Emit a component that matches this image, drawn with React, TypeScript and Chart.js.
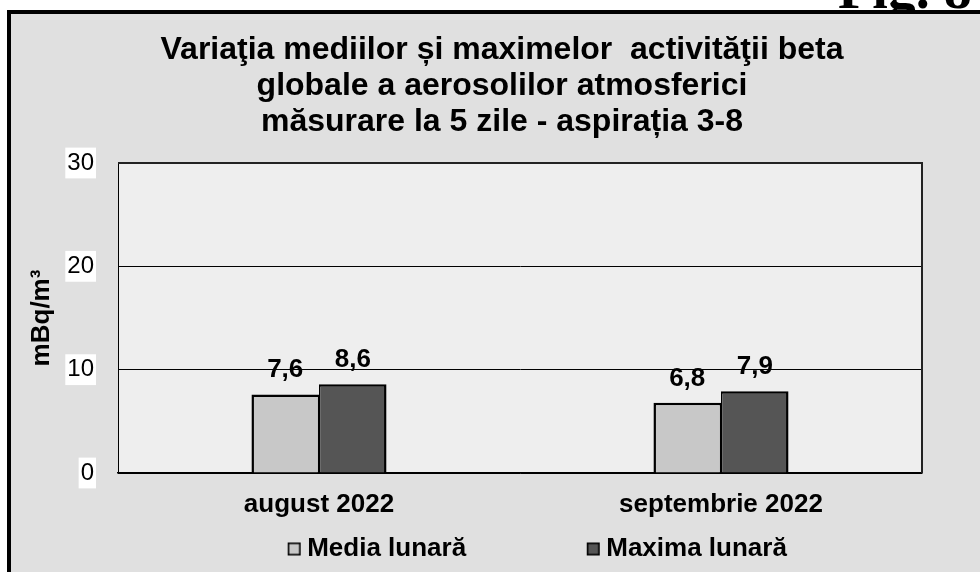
import React, { useEffect, useRef } from "react";
import { Chart, registerables } from "chart.js";

Chart.register(...registerables);

const categories = ["august 2022", "septembrie 2022"];
const seriesNames = ["Media lunară", "Maxima lunară"];
const mediaValues = [7.6, 6.8];
const maximaValues = [8.6, 7.9];
const yTicks = [0, 10, 20, 30];
const seriesColors = ["#c8c8c8", "#555555"];
const titleLines = [
  "Variaţia mediilor și maximelor  activităţii beta",
  "globale a aerosolilor atmosferici",
  "măsurare la 5 zile - aspirația 3-8",
];
const yTitle = "mBq/m³";

const FONT = "'Liberation Sans', Arial, Helvetica, sans-serif";
const CW = 1046;
const CH = 558;

function legendSwatch(color: string) {
  const c = document.createElement("canvas");
  c.width = 28;
  c.height = 15;
  const g = c.getContext("2d")!;
  g.fillStyle = color;
  g.fillRect(14, 1, 13, 13);
  g.strokeStyle = "#000";
  g.lineWidth = 1.6;
  g.strokeRect(14.8, 1.8, 11.4, 11.4);
  return c;
}

const areaPlugin = {
  id: "areaPlugin",
  beforeDraw(chart: any) {
    const { ctx, chartArea: a } = chart;
    ctx.save();
    ctx.fillStyle = "#eeeeee";
    ctx.fillRect(a.left, a.top, a.right - a.left, a.bottom - a.top);
    ctx.restore();
  },
  afterDatasetsDraw(chart: any) {
    const { ctx, chartArea: a } = chart;
    ctx.save();
    ctx.strokeStyle = "#222";
    ctx.lineWidth = 2;
    ctx.beginPath();
    ctx.moveTo(a.left, a.top);
    ctx.lineTo(a.right, a.top);
    ctx.lineTo(a.right, a.bottom);
    ctx.stroke();
    ctx.font = `bold 26px ${FONT}`;
    ctx.fillStyle = "#000";
    ctx.textAlign = "center";
    ctx.textBaseline = "alphabetic";
    chart.data.datasets.forEach((ds: any, i: number) => {
      const meta = chart.getDatasetMeta(i);
      meta.data.forEach((el: any, j: number) => {
        const v = ds.data[j] as number;
        ctx.fillText(v.toFixed(1).replace(".", ","), el.x, el.y - 17);
      });
    });
    ctx.restore();
  },
};

export default function App() {
  const ref = useRef<HTMLCanvasElement>(null);
  useEffect(() => {
    if (!ref.current) return;
    Chart.defaults.font.family = FONT;
    Chart.defaults.color = "#000";
    const swatches = seriesColors.map(legendSwatch);
    const chart = new Chart(ref.current, {
      type: "bar",
      data: {
        labels: categories,
        datasets: [
          {
            label: seriesNames[0],
            data: mediaValues,
            backgroundColor: seriesColors[0],
            borderColor: "#000",
            borderWidth: { top: 2.5, left: 2.5, right: 1.25, bottom: 0 } as any,
            categoryPercentage: 0.336,
            barPercentage: 1,
          },
          {
            label: seriesNames[1],
            data: maximaValues,
            backgroundColor: seriesColors[1],
            borderColor: "#000",
            borderWidth: { top: 2.5, left: 1.25, right: 2.5, bottom: 0 } as any,
            categoryPercentage: 0.336,
            barPercentage: 1,
          },
        ],
      },
      options: {
        responsive: false,
        animation: false,
        layout: { padding: 0 },
        plugins: {
          title: {
            display: true,
            text: titleLines.map((l) => l + "\u2002\u2002\u2002\u2002"),
            font: { size: 32, weight: "bold", lineHeight: 1.125 },
            color: "#000",
            padding: { top: 18, bottom: 23 },
          },
          legend: {
            position: "bottom",
            labels: {
              boxWidth: 13,
              boxHeight: 13,
              padding: 13,
              usePointStyle: true,
              color: "#000",
              font: { size: 26, weight: "bold" },
              generateLabels: (chart: any) => {
                const items = (Chart.defaults.plugins.legend.labels as any).generateLabels(chart);
                items.forEach((it: any, i: number) => {
                  it.pointStyle = swatches[i];
                  it.rotation = 0;
                  if (i === 0) it.text = it.text + " ".repeat(14);
                });
                return items;
              },
            },
          },
          tooltip: { enabled: false },
        },
        scales: {
          x: {
            grid: { display: false, drawTicks: false },
            border: { display: true, color: "#000", width: 1.5 },
            ticks: {
              font: { size: 26, weight: "bold" },
              color: "#000",
              padding: 16,
              maxRotation: 0,
            },
            afterFit: (s: any) => {
              s.height = 50;
            },
          },
          y: {
            min: 0,
            max: 30,
            afterBuildTicks: (s: any) => {
              s.ticks = yTicks.map((v) => ({ value: v }));
            },
            ticks: {
              font: { size: 24 },
              color: "#000",
              padding: 24,
              showLabelBackdrop: true,
              backdropColor: "#ffffff",
              backdropPadding: { x: 2, y: 1 },
            } as any,
            grid: { color: "#000", lineWidth: 1, drawTicks: false },
            border: { display: true, color: "#000", width: 1 },
            title: {
              display: true,
              text: yTitle,
              font: { size: 26, weight: "bold" },
              color: "#000",
              padding: { top: 15, bottom: 0 },
            },
            afterFit: (s: any) => {
              s.width = 107;
            },
          },
          yRight: {
            type: "linear",
            position: "right",
            display: true,
            grid: { display: false, drawTicks: false },
            border: { display: false },
            ticks: { display: false },
            afterFit: (s: any) => {
              s.width = 135;
            },
          },
        },
      },
      plugins: [areaPlugin],
    } as any);
    return () => chart.destroy();
  }, []);

  return (
    <div
      style={{
        position: "fixed",
        left: 0,
        top: 0,
        width: 980,
        height: 572,
        overflow: "hidden",
        background: "#ffffff",
      }}
    >
      <div
        style={{
          position: "absolute",
          left: 838,
          top: -39,
          fontFamily: "'Liberation Serif', 'Times New Roman', serif",
          fontWeight: "bold",
          fontSize: 56,
          lineHeight: 1,
          whiteSpace: "nowrap",
          color: "#000",
        }}
      >
        Fig. 8
      </div>
      <div
        style={{
          position: "absolute",
          left: 7,
          top: 10,
          width: 1100,
          height: 700,
          border: "4px solid #000",
          background: "#e0e0e0",
        }}
      >
        <canvas
          ref={ref}
          width={CW}
          height={CH}
          style={{ display: "block", width: CW + "px", height: CH + "px" }}
        />
      </div>
    </div>
  );
}
